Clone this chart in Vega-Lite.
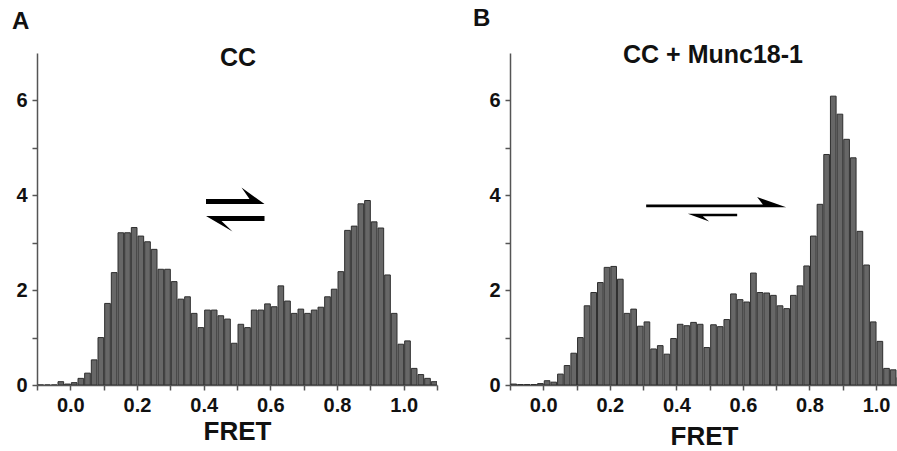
{
  "$schema": "https://vega.github.io/schema/vega-lite/v6.json",
  "padding": {"left": 5, "top": 6, "right": 0, "bottom": 0},
  "background": "white",
  "config": {
    "view": {"stroke": null},
    "font": "Liberation Sans",
    "axis": {
      "grid": false,
      "domainColor": "#555555",
      "domainWidth": 1.5,
      "tickColor": "#555555",
      "tickWidth": 1.5,
      "tickSize": 5,
      "labelFont": "Liberation Sans",
      "labelFontWeight": "bold",
      "labelFontSize": 20,
      "labelColor": "#111111",
      "labelPadding": 5,
      "labelFlush": false,
      "labelOverlap": false,
      "titleFont": "Liberation Sans",
      "titleFontWeight": "bold",
      "titleColor": "#111111"
    }
  },
  "datasets": {
    "histA": [
      {"x0": -0.1, "x1": -0.08, "v": 0}, {"x0": -0.08, "x1": -0.06, "v": 0}, {"x0": -0.06, "x1": -0.04, "v": 0},
      {"x0": -0.04, "x1": -0.02, "v": 0.07}, {"x0": -0.02, "x1": 0.0, "v": 0.02}, {"x0": 0.0, "x1": 0.02, "v": 0.05},
      {"x0": 0.02, "x1": 0.04, "v": 0.14}, {"x0": 0.04, "x1": 0.06, "v": 0.25}, {"x0": 0.06, "x1": 0.08, "v": 0.53},
      {"x0": 0.08, "x1": 0.1, "v": 1.0}, {"x0": 0.1, "x1": 0.12, "v": 1.72}, {"x0": 0.12, "x1": 0.14, "v": 2.37},
      {"x0": 0.14, "x1": 0.16, "v": 3.21}, {"x0": 0.16, "x1": 0.18, "v": 3.21}, {"x0": 0.18, "x1": 0.2, "v": 3.32},
      {"x0": 0.2, "x1": 0.22, "v": 3.14}, {"x0": 0.22, "x1": 0.24, "v": 3.02}, {"x0": 0.24, "x1": 0.26, "v": 2.86},
      {"x0": 0.26, "x1": 0.28, "v": 2.44}, {"x0": 0.28, "x1": 0.3, "v": 2.44}, {"x0": 0.3, "x1": 0.32, "v": 2.18},
      {"x0": 0.32, "x1": 0.34, "v": 1.81}, {"x0": 0.34, "x1": 0.36, "v": 1.86}, {"x0": 0.36, "x1": 0.38, "v": 1.51},
      {"x0": 0.38, "x1": 0.4, "v": 1.21}, {"x0": 0.4, "x1": 0.42, "v": 1.58}, {"x0": 0.42, "x1": 0.44, "v": 1.58},
      {"x0": 0.44, "x1": 0.46, "v": 1.46}, {"x0": 0.46, "x1": 0.48, "v": 1.39}, {"x0": 0.48, "x1": 0.5, "v": 0.88},
      {"x0": 0.5, "x1": 0.52, "v": 1.28}, {"x0": 0.52, "x1": 0.54, "v": 1.21}, {"x0": 0.54, "x1": 0.56, "v": 1.58},
      {"x0": 0.56, "x1": 0.58, "v": 1.58}, {"x0": 0.58, "x1": 0.6, "v": 1.71}, {"x0": 0.6, "x1": 0.62, "v": 1.65},
      {"x0": 0.62, "x1": 0.64, "v": 2.09}, {"x0": 0.64, "x1": 0.66, "v": 1.77}, {"x0": 0.66, "x1": 0.68, "v": 1.51},
      {"x0": 0.68, "x1": 0.7, "v": 1.6}, {"x0": 0.7, "x1": 0.72, "v": 1.51}, {"x0": 0.72, "x1": 0.74, "v": 1.58},
      {"x0": 0.74, "x1": 0.76, "v": 1.64}, {"x0": 0.76, "x1": 0.78, "v": 1.86}, {"x0": 0.78, "x1": 0.8, "v": 2.02},
      {"x0": 0.8, "x1": 0.82, "v": 2.39}, {"x0": 0.82, "x1": 0.84, "v": 3.26}, {"x0": 0.84, "x1": 0.86, "v": 3.35},
      {"x0": 0.86, "x1": 0.88, "v": 3.82}, {"x0": 0.88, "x1": 0.9, "v": 3.89}, {"x0": 0.9, "x1": 0.92, "v": 3.44},
      {"x0": 0.92, "x1": 0.94, "v": 3.31}, {"x0": 0.94, "x1": 0.96, "v": 2.32}, {"x0": 0.96, "x1": 0.98, "v": 1.51},
      {"x0": 0.98, "x1": 1.0, "v": 0.86}, {"x0": 1.0, "x1": 1.02, "v": 0.93}, {"x0": 1.02, "x1": 1.04, "v": 0.35},
      {"x0": 1.04, "x1": 1.06, "v": 0.22}, {"x0": 1.06, "x1": 1.08, "v": 0.14}, {"x0": 1.08, "x1": 1.1, "v": 0.07}
    ],
    "histB": [
      {"x0": -0.1, "x1": -0.08, "v": 0.02}, {"x0": -0.08, "x1": -0.06, "v": 0.01}, {"x0": -0.06, "x1": -0.04, "v": 0.01},
      {"x0": -0.04, "x1": -0.02, "v": 0.01}, {"x0": -0.02, "x1": 0.0, "v": 0.03}, {"x0": 0.0, "x1": 0.02, "v": 0.09},
      {"x0": 0.02, "x1": 0.04, "v": 0.06}, {"x0": 0.04, "x1": 0.06, "v": 0.23}, {"x0": 0.06, "x1": 0.08, "v": 0.41},
      {"x0": 0.08, "x1": 0.1, "v": 0.67}, {"x0": 0.1, "x1": 0.12, "v": 1.0}, {"x0": 0.12, "x1": 0.14, "v": 1.67},
      {"x0": 0.14, "x1": 0.16, "v": 1.95}, {"x0": 0.16, "x1": 0.18, "v": 2.16}, {"x0": 0.18, "x1": 0.2, "v": 2.48},
      {"x0": 0.2, "x1": 0.22, "v": 2.5}, {"x0": 0.22, "x1": 0.24, "v": 2.23}, {"x0": 0.24, "x1": 0.26, "v": 1.51},
      {"x0": 0.26, "x1": 0.28, "v": 1.6}, {"x0": 0.28, "x1": 0.3, "v": 1.24}, {"x0": 0.3, "x1": 0.32, "v": 1.33},
      {"x0": 0.32, "x1": 0.34, "v": 0.76}, {"x0": 0.34, "x1": 0.36, "v": 0.83}, {"x0": 0.36, "x1": 0.38, "v": 0.65},
      {"x0": 0.38, "x1": 0.4, "v": 0.98}, {"x0": 0.4, "x1": 0.42, "v": 1.28}, {"x0": 0.42, "x1": 0.44, "v": 1.25},
      {"x0": 0.44, "x1": 0.46, "v": 1.32}, {"x0": 0.46, "x1": 0.48, "v": 1.28}, {"x0": 0.48, "x1": 0.5, "v": 0.79},
      {"x0": 0.5, "x1": 0.52, "v": 1.27}, {"x0": 0.52, "x1": 0.54, "v": 1.23}, {"x0": 0.54, "x1": 0.56, "v": 1.38},
      {"x0": 0.56, "x1": 0.58, "v": 1.92}, {"x0": 0.58, "x1": 0.6, "v": 1.8}, {"x0": 0.6, "x1": 0.62, "v": 1.75},
      {"x0": 0.62, "x1": 0.64, "v": 2.36}, {"x0": 0.64, "x1": 0.66, "v": 1.95}, {"x0": 0.66, "x1": 0.68, "v": 1.94},
      {"x0": 0.68, "x1": 0.7, "v": 1.89}, {"x0": 0.7, "x1": 0.72, "v": 1.67}, {"x0": 0.72, "x1": 0.74, "v": 1.61},
      {"x0": 0.74, "x1": 0.76, "v": 1.89}, {"x0": 0.76, "x1": 0.78, "v": 2.09}, {"x0": 0.78, "x1": 0.8, "v": 2.51},
      {"x0": 0.8, "x1": 0.82, "v": 3.14}, {"x0": 0.82, "x1": 0.84, "v": 3.81}, {"x0": 0.84, "x1": 0.86, "v": 4.86},
      {"x0": 0.86, "x1": 0.88, "v": 6.09}, {"x0": 0.88, "x1": 0.9, "v": 5.71}, {"x0": 0.9, "x1": 0.92, "v": 5.18},
      {"x0": 0.92, "x1": 0.94, "v": 4.79}, {"x0": 0.94, "x1": 0.96, "v": 3.24}, {"x0": 0.96, "x1": 0.98, "v": 2.53},
      {"x0": 0.98, "x1": 1.0, "v": 1.33}, {"x0": 1.0, "x1": 1.02, "v": 0.92}, {"x0": 1.02, "x1": 1.04, "v": 0.35},
      {"x0": 1.04, "x1": 1.06, "v": 0.32}, {"x0": 1.06, "x1": 1.08, "v": 0.16}
    ],
    "labelA": [{"x": 0.503, "y": 6.73, "t": "CC"}],
    "labelB": [{"x": 0.51, "y": 6.79, "t": "CC + Munc18-1"}],
    "arrowA": [{"x": 0.4955, "y": 3.7}],
    "arrowB": [{"x": 0.5195, "y": 3.705}]
  },
  "hconcat": [
    {
      "width": 400,
      "height": 332,
      "title": {"text": "A", "anchor": "start", "frame": "group", "dx": -25, "fontSize": 24, "fontWeight": "bold", "font": "Liberation Sans", "offset": 12, "color": "#111111"},
      "layer": [
        {
          "data": {"name": "histA"},
          "mark": {"type": "bar", "fill": "#676767", "stroke": "#2e2e2e", "strokeWidth": 1, "clip": true},
          "encoding": {
            "x": {"field": "x0", "type": "quantitative", "bin": {"binned": true, "step": 0.02},
              "scale": {"domain": [-0.1, 1.1], "nice": false, "zero": false},
              "axis": {"values": [-0.1, 0, 0.1, 0.2, 0.3, 0.4, 0.5, 0.6, 0.7, 0.8, 0.9, 1.0, 1.1],
                "labelExpr": "(datum.value >= 0 && datum.value <= 1.01 && abs(round(datum.value * 10)) % 2 == 0) ? format(datum.value, '.1f') : ''",
                "title": "FRET", "titleFontSize": 26, "titlePadding": 3}},
            "x2": {"field": "x1"},
            "y": {"field": "v", "type": "quantitative",
              "scale": {"domain": [0, 7], "nice": false},
              "axis": {"values": [0, 1, 2, 3, 4, 5, 6], "labelExpr": "datum.value % 2 == 0 ? datum.label : ''", "title": null, "minExtent": 32, "maxExtent": 32}}
          }
        },
        {
          "data": {"name": "labelA"},
          "mark": {"type": "text", "fontSize": 25, "fontWeight": "bold", "font": "Liberation Sans", "align": "center", "baseline": "alphabetic", "color": "#111111"},
          "encoding": {
            "x": {"field": "x", "type": "quantitative"},
            "y": {"field": "y", "type": "quantitative"},
            "text": {"field": "t"}
          }
        },
        {
          "data": {"name": "arrowA"},
          "mark": {"type": "point", "filled": true, "fill": "#000000", "opacity": 1, "strokeWidth": 0, "size": 3600,
            "shape": "M -0.983,-0.35 L 0.467,-0.35 L 0.2,-0.733 L 0.967,-0.183 L -0.983,-0.183 Z M 0.967,0.217 L -0.983,0.217 L -0.1,0.733 L -0.467,0.383 L 0.967,0.383 Z"},
          "encoding": {
            "x": {"field": "x", "type": "quantitative"},
            "y": {"field": "y", "type": "quantitative"}
          }
        }
      ]
    },
    {
      "width": 388,
      "height": 332,
      "title": {"text": "B", "anchor": "start", "frame": "group", "dx": -37, "fontSize": 24, "fontWeight": "bold", "font": "Liberation Sans", "offset": 12, "color": "#111111"},
      "layer": [
        {
          "data": {"name": "histB"},
          "mark": {"type": "bar", "fill": "#676767", "stroke": "#2e2e2e", "strokeWidth": 1, "clip": true},
          "encoding": {
            "x": {"field": "x0", "type": "quantitative", "bin": {"binned": true, "step": 0.02},
              "scale": {"domain": [-0.1, 1.066], "nice": false, "zero": false},
              "axis": {"values": [-0.1, 0, 0.1, 0.2, 0.3, 0.4, 0.5, 0.6, 0.7, 0.8, 0.9, 1.0],
                "labelExpr": "(datum.value >= 0 && datum.value <= 1.01 && abs(round(datum.value * 10)) % 2 == 0) ? format(datum.value, '.1f') : ''",
                "title": "FRET", "titleFontSize": 26, "titlePadding": 8}},
            "x2": {"field": "x1"},
            "y": {"field": "v", "type": "quantitative",
              "scale": {"domain": [0, 7], "nice": false},
              "axis": {"values": [0, 1, 2, 3, 4, 5, 6], "labelExpr": "datum.value % 2 == 0 ? datum.label : ''", "title": null, "minExtent": 32, "maxExtent": 32}}
          }
        },
        {
          "data": {"name": "labelB"},
          "mark": {"type": "text", "fontSize": 25, "fontWeight": "bold", "font": "Liberation Sans", "align": "center", "baseline": "alphabetic", "color": "#111111"},
          "encoding": {
            "x": {"field": "x", "type": "quantitative"},
            "y": {"field": "y", "type": "quantitative"},
            "text": {"field": "t"}
          }
        },
        {
          "data": {"name": "arrowB"},
          "mark": {"type": "point", "filled": true, "fill": "#000000", "opacity": 1, "strokeWidth": 0, "size": 20736,
            "shape": "M -0.972,-0.065 L 0.649,-0.065 L 0.569,-0.171 L 0.972,-0.028 L -0.972,-0.028 Z M 0.292,0.0625 L -0.393,0.0625 L -0.097,0.171 L -0.185,0.097 L 0.292,0.097 Z"},
          "encoding": {
            "x": {"field": "x", "type": "quantitative"},
            "y": {"field": "y", "type": "quantitative"}
          }
        }
      ]
    }
  ],
  "spacing": 35
}
